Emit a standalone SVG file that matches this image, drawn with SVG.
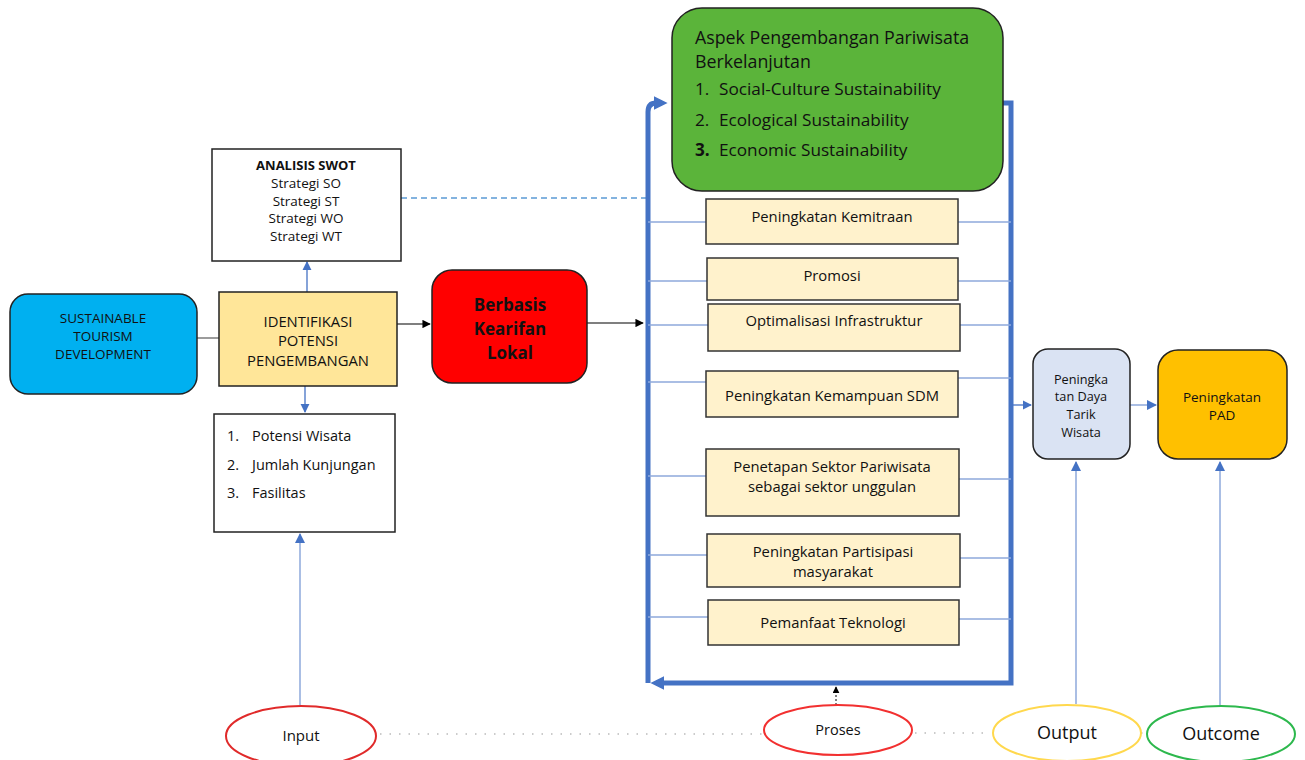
<svg xmlns="http://www.w3.org/2000/svg" width="1305" height="760" viewBox="0 0 1305 760">
<defs>
<style>
text{font-family:"Open Sans","Liberation Sans",sans-serif;fill:#111;}
.c{text-anchor:middle;}
.box{stroke:#222;stroke-width:1.5;}
.st{fill:#FFF2CC;stroke:#333;stroke-width:1.5;}
.s{font-size:14.8px;}
.thin{stroke:#8EA9DB;stroke-width:1.3;fill:none;}
.frame{stroke:#4472C4;stroke-width:5;fill:none;}
.ell{fill:#fff;stroke-width:2;}
.dot{stroke:#bbb;stroke-width:1.5;stroke-dasharray:1.5 8;fill:none;}
</style>
<marker id="ab" viewBox="0 0 10 10" refX="9" refY="5" markerWidth="7" markerHeight="7" orient="auto"><path d="M0,0L10,5L0,10z" fill="#4472C4"/></marker>
<marker id="ak" viewBox="0 0 10 10" refX="9" refY="5" markerWidth="7" markerHeight="7" orient="auto"><path d="M0,0L10,5L0,10z" fill="#000"/></marker>
<marker id="abig" viewBox="0 0 10 10" refX="6" refY="5" markerWidth="2.8" markerHeight="2.8" orient="auto"><path d="M0,0L10,5L0,10z" fill="#4472C4"/></marker>
</defs>
<rect width="1305" height="760" fill="#fff"/>

<g id="connectors">
<line x1="197" y1="338" x2="219" y2="338" stroke="#666" stroke-width="1.3"/>
<line x1="307" y1="292" x2="307" y2="262" stroke="#4472C4" stroke-width="1.3" marker-end="url(#ab)"/>
<line x1="305" y1="386" x2="305" y2="412" stroke="#4472C4" stroke-width="1.3" marker-end="url(#ab)"/>
<line x1="300" y1="705" x2="300" y2="534" stroke="#8EA9DB" stroke-width="1.5" marker-end="url(#ab)"/>
<line x1="397" y1="324" x2="430" y2="324" stroke="#000" stroke-width="1.2" marker-end="url(#ak)"/>
<line x1="587" y1="323" x2="643" y2="323" stroke="#000" stroke-width="1.2" marker-end="url(#ak)"/>
<line x1="401" y1="198" x2="646" y2="198" stroke="#5B9BD5" stroke-width="1.3" stroke-dasharray="6 4"/>
<path class="frame" d="M1003,103 L1011,103 L1011,683 L656,683" marker-end="url(#abig)"/>
<path class="frame" d="M648,683 L648,112 Q648,103 656,103 L662,103" marker-end="url(#abig)"/>
<path class="thin" d="M648,222H706M958,222H1011"/>
<path class="thin" d="M648,281H707M958,281H1011"/>
<path class="thin" d="M648,325H708M960,325H1011"/>
<path class="thin" d="M648,382H706M958,378H1011"/>
<path class="thin" d="M648,476H706M959,479H1011"/>
<path class="thin" d="M648,555H707M960,558H1011"/>
<path class="thin" d="M648,617H708M959,619H1011"/>
<line x1="1013" y1="405" x2="1031" y2="405" stroke="#4472C4" stroke-width="1.3" marker-end="url(#ab)"/>
<line x1="1130" y1="405" x2="1156" y2="405" stroke="#8EA9DB" stroke-width="1.5" marker-end="url(#ab)"/>
<line x1="1076" y1="704" x2="1076" y2="462" stroke="#8EA9DB" stroke-width="1.5" marker-end="url(#ab)"/>
<line x1="1220" y1="706" x2="1220" y2="462" stroke="#8EA9DB" stroke-width="1.5" marker-end="url(#ab)"/>
<line x1="836" y1="705" x2="836" y2="687" stroke="#000" stroke-width="1" stroke-dasharray="2 2" marker-end="url(#ak)"/>
<line class="dot" x1="380" y1="734" x2="762" y2="734"/>
<line class="dot" x1="915" y1="733" x2="991" y2="733"/>
<line class="dot" x1="1141" y1="733" x2="1147" y2="733"/>
</g>

<g id="swot">
<rect class="box" x="212" y="149" width="189" height="112" fill="#fff"/>
<text class="c" x="306" y="170" font-size="13" font-weight="bold">ANALISIS SWOT</text>
<text class="c" x="306" y="188" font-size="13.5">Strategi SO</text>
<text class="c" x="306" y="206" font-size="13.5">Strategi ST</text>
<text class="c" x="306" y="223" font-size="13.5">Strategi WO</text>
<text class="c" x="306" y="241" font-size="13.5">Strategi WT</text>
</g>

<g id="sustainable">
<rect class="box" x="10" y="294" width="187" height="100" rx="18" fill="#00B0F0"/>
<text class="c" x="103" y="323" font-size="13.5">SUSTAINABLE</text>
<text class="c" x="103" y="341" font-size="13.5">TOURISM</text>
<text class="c" x="103" y="359" font-size="13.5">DEVELOPMENT</text>
</g>

<g id="identifikasi">
<rect class="box" x="219" y="292" width="178" height="94" fill="#FFE699"/>
<text class="c" x="308" y="327" font-size="14.8">IDENTIFIKASI</text>
<text class="c" x="308" y="346" font-size="14.8">POTENSI</text>
<text class="c" x="308" y="366" font-size="14.8">PENGEMBANGAN</text>
</g>

<g id="potensi">
<rect class="box" x="214" y="414" width="181" height="118" fill="#fff"/>
<text x="227" y="441" font-size="14.5">1.</text><text x="252" y="441" font-size="14.5">Potensi Wisata</text>
<text x="227" y="470" font-size="14.5">2.</text><text x="252" y="470" font-size="14.5">Jumlah Kunjungan</text>
<text x="227" y="498" font-size="14.5">3.</text><text x="252" y="498" font-size="14.5">Fasilitas</text>
</g>

<g id="berbasis">
<rect class="box" x="432" y="270" width="155" height="113" rx="20" fill="#FF0000"/>
<text class="c" x="510" y="311" font-size="17" font-weight="bold">Berbasis</text>
<text class="c" x="510" y="335" font-size="17" font-weight="bold">Kearifan</text>
<text class="c" x="510" y="359" font-size="17" font-weight="bold">Lokal</text>
</g>

<g id="aspek">
<rect class="box" x="672" y="8" width="331" height="183" rx="30" fill="#5BB43A"/>
<text x="695" y="44" font-size="17.8">Aspek Pengembangan Pariwisata</text>
<text x="695" y="68" font-size="17.8">Berkelanjutan</text>
<text x="695" y="95" font-size="17.2">1.</text><text x="719" y="95" font-size="17.2">Social-Culture Sustainability</text>
<text x="695" y="126" font-size="17.2">2.</text><text x="719" y="126" font-size="17.2">Ecological Sustainability</text>
<text x="695" y="156" font-size="17.2" font-weight="bold">3.</text><text x="719" y="156" font-size="17.2">Economic Sustainability</text>
</g>

<g id="kemitraan"><rect class="st" x="706" y="199" width="252" height="45"/><text class="c s" x="832" y="222">Peningkatan Kemitraan</text></g>
<g id="promosi"><rect class="st" x="707" y="258" width="251" height="42"/><text class="c s" x="832" y="281">Promosi</text></g>
<g id="infrastruktur"><rect class="st" x="708" y="304" width="252" height="47"/><text class="c s" x="834" y="326">Optimalisasi Infrastruktur</text></g>
<g id="sdm"><rect class="st" x="706" y="371" width="252" height="46"/><text class="c s" x="832" y="401">Peningkatan Kemampuan SDM</text></g>
<g id="sektor"><rect class="st" x="706" y="449" width="253" height="67"/><text class="c s" x="832" y="472">Penetapan Sektor Pariwisata</text><text class="c s" x="832" y="492">sebagai sektor unggulan</text></g>
<g id="partisipasi"><rect class="st" x="707" y="534" width="253" height="53"/><text class="c s" x="833" y="557">Peningkatan Partisipasi</text><text class="c s" x="833" y="577">masyarakat</text></g>
<g id="teknologi"><rect class="st" x="708" y="600" width="251" height="45"/><text class="c s" x="833" y="628">Pemanfaat Teknologi</text></g>

<g id="daya">
<rect class="box" x="1033" y="349" width="97" height="110" rx="15" fill="#DAE3F3"/>
<text class="c" x="1081" y="384" font-size="12.7">Peningka</text>
<text class="c" x="1081" y="401" font-size="12.7">tan Daya</text>
<text class="c" x="1081" y="419" font-size="12.7">Tarik</text>
<text class="c" x="1081" y="437" font-size="12.7">Wisata</text>
</g>

<g id="pad">
<rect class="box" x="1158" y="350" width="129" height="109" rx="20" fill="#FFC000"/>
<text class="c" x="1222" y="402" font-size="13.5">Peningkatan</text>
<text class="c" x="1222" y="420" font-size="13.5">PAD</text>
</g>

<g id="input"><ellipse class="ell" cx="301" cy="736" rx="75" ry="30" stroke="#E02A2A"/><text class="c" x="301" y="741" font-size="15">Input</text></g>
<g id="proses"><ellipse class="ell" cx="838" cy="730" rx="74" ry="25" stroke="#F23030"/><text class="c" x="838" y="735" font-size="14.5">Proses</text></g>
<g id="output"><ellipse class="ell" cx="1067" cy="733" rx="74" ry="28" stroke="#FFD84D"/><text class="c" x="1067" y="739" font-size="18">Output</text></g>
<g id="outcome"><ellipse class="ell" cx="1221" cy="734" rx="74" ry="28" stroke="#2DB84D"/><text class="c" x="1221" y="740" font-size="18">Outcome</text></g>
</svg>
